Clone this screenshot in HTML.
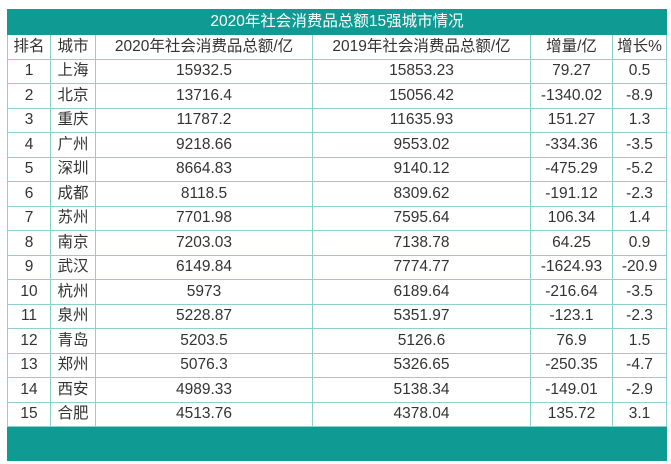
<!DOCTYPE html>
<html><head><meta charset="utf-8"><style>
body{margin:0;width:671px;height:464px;background:#fff;font-family:"Liberation Sans","Noto Sans CJK SC",sans-serif;overflow:hidden}
.t{position:absolute;left:7px;top:9px;width:659px;border-collapse:collapse;table-layout:fixed}
.t td{border:1px solid #8fcfcc;height:23.5px;padding:0;text-align:center;font-size:15.5px;color:#333;line-height:22px;white-space:nowrap;overflow:hidden}
.t tr.title td{background:#0f9a94;color:#fff;font-size:15.5px;height:24px;border-color:#0f9a94}
.t tr.foot td{background:#0f9a94;height:33px;border-color:#0f9a94}
</style></head><body>
<table class="t">
<colgroup><col style="width:43px"><col style="width:45px"><col style="width:217px"><col style="width:218px"><col style="width:82px"><col style="width:54px"></colgroup>
<tr class="title"><td colspan="6">2020年社会消费品总额15强城市情况</td></tr>
<tr><td>排名</td><td>城市</td><td>2020年社会消费品总额/亿</td><td>2019年社会消费品总额/亿</td><td>增量/亿</td><td>增长%</td></tr>
<tbody id="body"></tbody>
<tr class="foot"><td colspan="6"></td></tr>
</table>
<script>
const cities=["上海","北京","重庆","广州","深圳","成都","苏州","南京","武汉","杭州","泉州","青岛","郑州","西安","合肥"];
const v2020=["15932.5","13716.4","11787.2","9218.66","8664.83","8118.5","7701.98","7203.03","6149.84","5973","5228.87","5203.5","5076.3","4989.33","4513.76"];
const v2019=["15853.23","15056.42","11635.93","9553.02","9140.12","8309.62","7595.64","7138.78","7774.77","6189.64","5351.97","5126.6","5326.65","5138.34","4378.04"];
const incr=["79.27","-1340.02","151.27","-334.36","-475.29","-191.12","106.34","64.25","-1624.93","-216.64","-123.1","76.9","-250.35","-149.01","135.72"];
const growth=["0.5","-8.9","1.3","-3.5","-5.2","-2.3","1.4","0.9","-20.9","-3.5","-2.3","1.5","-4.7","-2.9","3.1"];
const tb=document.getElementById('body');
cities.forEach((c,i)=>{
const tr=document.createElement('tr');


[String(i+1),c,v2020[i],v2019[i],incr[i],growth[i]].forEach((t,j)=>{
const td=document.createElement('td');


td.textContent=t;tr.appendChild(td);});
tb.appendChild(tr);});
</script>
</body></html>
